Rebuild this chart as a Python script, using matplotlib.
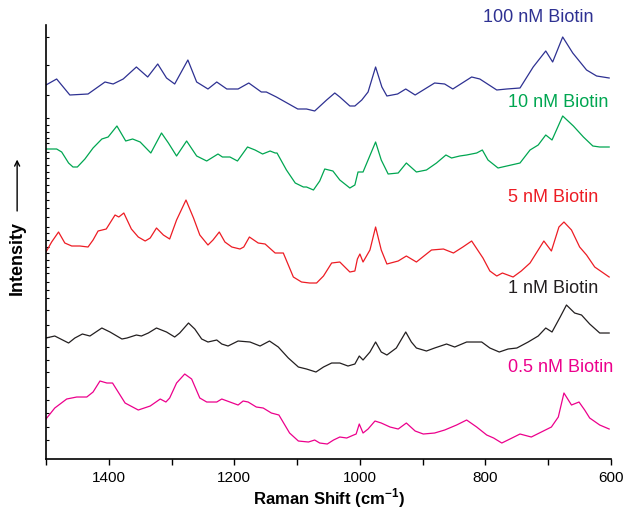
import matplotlib
matplotlib.use("Agg")
import matplotlib.pyplot as plt

plt.rcParams['font.family'] = ['Liberation Sans', 'DejaVu Sans']

# ---------------- data (Raman shift in cm^-1, offset intensity in a.u.) -------------
x_100 = [1500, 1483, 1462, 1433, 1406, 1393, 1377, 1356, 1338, 1322, 1308, 1295, 1274, 1260,
         1242, 1228, 1212, 1194, 1177, 1157, 1149, 1133, 1099, 1085, 1072, 1053, 1040, 1032,
         1016, 1008, 997, 987, 975, 965, 957, 940, 927, 912, 881, 865, 852, 822, 809, 782,
         766, 745, 724, 704, 693, 677, 661, 639, 623, 603]
y_100 = [374, 380, 364, 365, 377, 375, 380, 392, 382, 395, 381, 375, 399, 377,
         370, 377, 370, 370, 376, 367, 367, 362, 350, 350, 348, 359, 366, 362,
         353, 353, 359, 367, 392, 372, 363, 365, 370, 364, 376, 375, 370, 382, 380, 369,
         370, 371, 392, 408, 397, 422, 406, 389, 383, 381]

x_10 = [1500, 1483, 1475, 1464, 1457, 1450, 1438, 1425, 1411, 1401, 1387, 1373, 1362, 1350,
        1333, 1316, 1305, 1292, 1276, 1260, 1244, 1226, 1219, 1207, 1195, 1179, 1167, 1155,
        1143, 1135, 1132, 1117, 1103, 1090, 1085, 1074, 1064, 1056, 1043, 1032, 1016, 1008,
        1003, 995, 987, 975, 966, 955, 939, 926, 910, 894, 878, 863, 854, 841, 830, 814,
        805, 796, 780, 766, 745, 729, 716, 704, 694, 677, 660, 644, 629, 618, 603]
y_10 = [310, 310, 307, 296, 292, 292, 300, 311, 320, 322, 333, 318, 320, 317,
        306, 326, 316, 303, 318, 303, 298, 305, 302, 302, 298, 312, 309, 305,
        308, 306, 306, 289, 276, 272, 272, 269, 278, 290, 288, 279, 271, 274,
        287, 287, 299, 317, 299, 285, 286, 296, 287, 289, 296, 304, 301, 303, 304, 306,
        309, 299, 291, 293, 296, 309, 314, 324, 319, 343, 333, 322, 313, 312, 312]

x_5 = [1500, 1491, 1480, 1470, 1459, 1446, 1433, 1425, 1417, 1404, 1398, 1390, 1384, 1376,
       1364, 1353, 1342, 1334, 1324, 1313, 1303, 1292, 1277, 1265, 1255, 1242, 1234, 1224,
       1215, 1204, 1191, 1185, 1176, 1162, 1151, 1135, 1122, 1106, 1093, 1080, 1069, 1058,
       1045, 1032, 1016, 1008, 1004, 1000, 995, 984, 975, 966, 957, 939, 926, 910, 886,
       867, 851, 836, 822, 804, 793, 782, 773, 756, 743, 729, 719, 707, 695, 683, 675,
       663, 650, 639, 626, 603]
y_5 = [207, 217, 227, 216, 213, 213, 212, 219, 228, 230, 236, 244, 242, 246,
       230, 222, 218, 221, 231, 224, 220, 239, 259, 241, 224, 214, 219, 227,
       217, 212, 210, 212, 222, 216, 215, 206, 206, 182, 177, 176, 176, 183,
       196, 197, 187, 188, 200, 205, 197, 209, 232, 209, 195, 198, 203, 197, 209,
       210, 206, 212, 218, 201, 188, 183, 186, 182, 188, 196, 206, 218, 208, 232, 237,
       229, 212, 204, 192, 182]

x_1 = [1500, 1486, 1464, 1454, 1442, 1430, 1411, 1398, 1379, 1371, 1356, 1348, 1337, 1324,
       1308, 1295, 1287, 1273, 1263, 1252, 1242, 1228, 1220, 1210, 1194, 1175, 1159, 1144,
       1130, 1114, 1098, 1085, 1070, 1058, 1045, 1032, 1019, 1008, 1001, 995, 984, 975,
       966, 957, 942, 927, 918, 910, 894, 881, 862, 849, 830, 806, 793, 778, 764, 750,
       732, 716, 704, 694, 681, 671, 658, 647, 634, 618, 603]
y_1 = [121, 123, 116, 121, 125, 123, 131, 127, 120, 121, 124, 123, 126, 131,
       127, 122, 126, 136, 130, 120, 117, 119, 115, 113, 118, 117, 113, 118,
       112, 101, 92, 90, 87, 92, 96, 96, 93, 95, 103, 99, 107, 117,
       107, 104, 111, 127, 117, 111, 108, 111, 115, 112, 117, 117, 111, 107, 110, 111,
       117, 123, 131, 127, 142, 154, 146, 144, 135, 126, 126]

x_05 = [1500, 1486, 1467, 1451, 1435, 1425, 1414, 1403, 1394, 1374, 1353, 1334, 1318, 1309,
        1303, 1292, 1279, 1268, 1255, 1244, 1228, 1220, 1207, 1194, 1186, 1178, 1165, 1154,
        1141, 1129, 1112, 1098, 1082, 1072, 1064, 1052, 1042, 1032, 1021, 1010, 1006, 1001,
        995, 987, 976, 966, 952, 939, 926, 912, 899, 881, 865, 846, 830, 814, 798, 787,
        774, 761, 745, 727, 711, 695, 684, 675, 663, 651, 642, 634, 618, 603]
y_05 = [40, 51, 60, 62, 62, 67, 78, 76, 76, 56, 49, 53, 60, 57,
        61, 76, 85, 80, 61, 57, 57, 60, 57, 54, 58, 57, 52, 51,
        46, 44, 26, 18, 17, 19, 16, 15, 19, 22, 21, 24, 25, 35,
        26, 30, 38, 36, 32, 30, 36, 28, 25, 26, 29, 34, 39, 32, 24, 21,
        16, 20, 25, 22, 27, 32, 42, 66, 54, 57, 49, 41, 34, 30]

labels = ["100 nM Biotin", "10 nM Biotin", "5 nM Biotin", "1 nM Biotin", "0.5 nM Biotin"]
colors = ["#2e3192", "#00a651", "#ed1c24", "#231f20", "#ec008c"]
label_x = [804, 764, 764, 764, 764]
label_y = [441, 356, 262, 171, 92]

x_major = [1400, 1200, 1000, 800, 600]
x_minor = [1500, 1300, 1100, 900, 700]
y_ticks = [422, 394, 364, 341, 334, 327, 321, 316, 307, 301, 294, 287, 281, 274, 267, 259,
           251, 242, 232, 226, 219, 212, 206, 199, 192, 186, 177, 169, 161, 149, 134, 122,
           112, 99, 87, 72, 59, 46, 32, 19]

# ---------------- figure ----------------
fig = plt.figure(figsize=(6.23, 5.09), dpi=100)
ax = fig.add_axes([0.0738, 0.0982, 0.907, 0.8527])

series = [(x_100, y_100), (x_10, y_10), (x_5, y_5), (x_1, y_1), (x_05, y_05)]
for (xs, ys), c, lab, lx, ly in zip(series, colors, labels, label_x, label_y):
    ax.plot(xs, ys, color=c, lw=0.9, solid_joinstyle='round')
    ax.text(lx, ly, lab, color=c, fontsize=13, ha='left', va='center', clip_on=False)

ax.set_xlim(1500, 600)
ax.set_ylim(0, 434)
ax.spines['top'].set_visible(False)
ax.spines['right'].set_visible(False)
ax.spines['left'].set_linewidth(1.2)
ax.spines['bottom'].set_linewidth(1.2)

ax.set_xticks(x_major)
ax.set_xticks(x_minor, minor=True)
ax.tick_params(axis='x', which='major', direction='out', length=4.5, width=1.0,
               labelsize=11, pad=4)
ax.tick_params(axis='x', which='minor', direction='out', length=4, width=1.0)
ax.set_yticks(y_ticks)
ax.set_yticklabels([])
ax.tick_params(axis='y', which='major', direction='in', length=2.5, width=0.8)

ax.set_xlabel(r"Raman Shift (cm$^{\mathregular{-1}}$)", fontsize=12, fontweight='bold',
              labelpad=1)

fig.text(0.027, 0.493, "Intensity", rotation=90, fontsize=13, fontweight='bold',
         ha='center', va='center')
fig.patches.append(matplotlib.patches.FancyArrowPatch(
    (0.0275, 0.580), (0.0275, 0.692), transform=fig.transFigure,
    arrowstyle='->', mutation_scale=9, lw=1.0, color='black'))

fig.savefig("out.png", dpi=100)
